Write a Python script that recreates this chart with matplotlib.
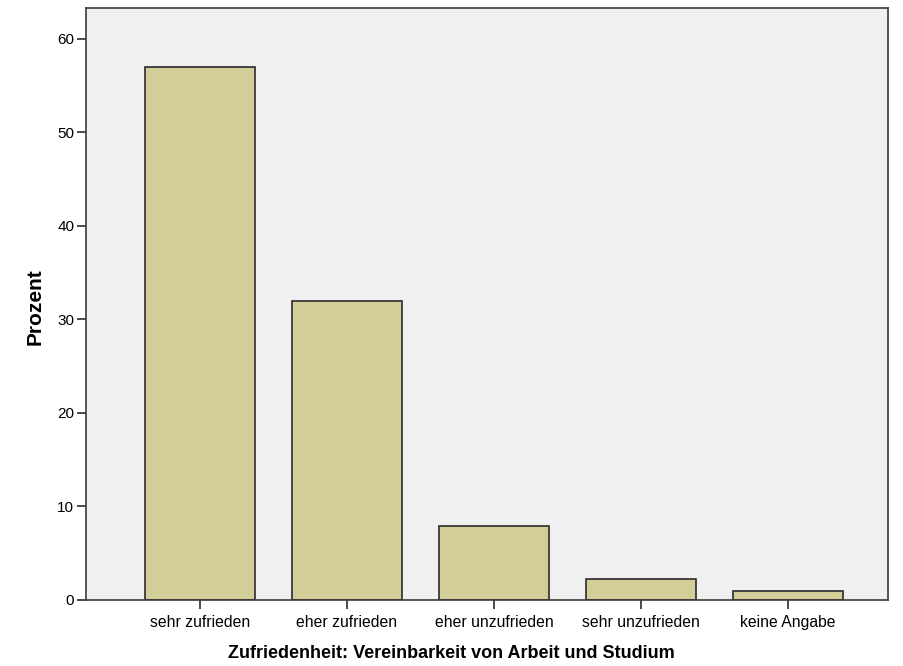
import matplotlib.pyplot as plt
import numpy as np

plt.rcParams['font.family'] = ['Liberation Sans', 'DejaVu Sans']

# Antworten und Prozentwerte
categories = ["sehr zufrieden", "eher zufrieden", "eher unzufrieden",
              "sehr unzufrieden", "keine Angabe"]
percent = [57.0, 32.0, 7.9, 2.2, 1.0]
yticks = [0, 10, 20, 30, 40, 50, 60]

fig = plt.figure(figsize=(9.04, 6.66), dpi=100)
ax = fig.add_axes([0.0951, 0.0991, 0.8872, 0.8889])
ax.set_facecolor('#f0f0f0')

x = np.arange(len(categories))
ax.bar(x, percent, width=0.75, color='#d3ce97', edgecolor='#2b2b2b', linewidth=1.2)

ax.set_xlim(-0.776, 4.68)
ax.set_ylim(0, 63.3)
ax.set_xticks(x)
ax.set_xticklabels(categories, fontsize=11.3)
ax.set_yticks(yticks)
ax.set_yticklabels([str(t) for t in yticks], fontsize=11)
ax.tick_params(axis='both', length=6.5, width=1.2, color='#2b2b2b')
ax.tick_params(axis='x', pad=4)
ax.tick_params(axis='y', pad=2)

for s in ax.spines.values():
    s.set_color('#3a3a3a')
    s.set_linewidth(1.2)

ax.set_xlabel("Zufriedenheit: Vereinbarkeit von Arbeit und Studium",
              fontsize=13, fontweight='bold')
ax.xaxis.set_label_coords(0.456, -0.076)
ax.set_ylabel("Prozent", fontsize=15, fontweight='bold')
ax.yaxis.set_label_coords(-0.052, 0.495)

fig.savefig("out.png", dpi=100)
